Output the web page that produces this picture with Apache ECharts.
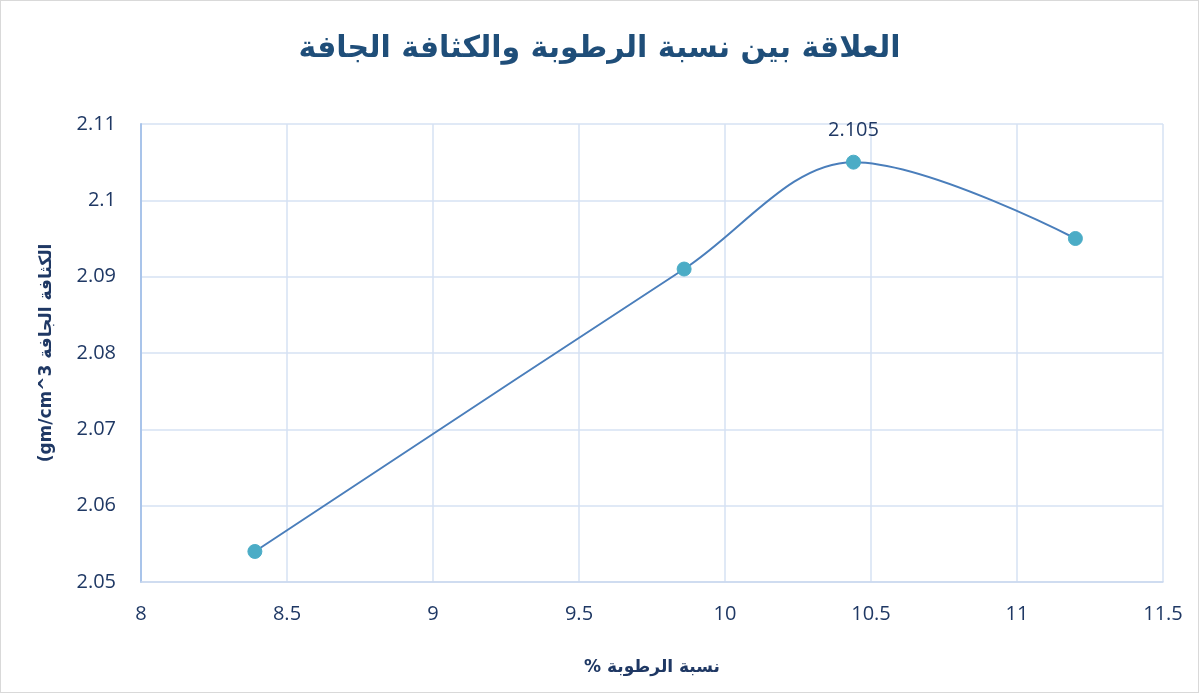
<!DOCTYPE html>
<html><head><meta charset="utf-8">
<script src="https://cdn.jsdelivr.net/npm/echarts@6/dist/echarts.min.js"></script>
<style>html,body{margin:0;padding:0;background:#fff}#c{width:1199px;height:693px;box-sizing:border-box;border:1px solid #d9d9d9}</style>
</head><body><div id="c"></div>
<script>
const titleText = 'العلاقة بين نسبة الرطوبة والكثافة الجافة';
const xName = '% نسبة الرطوبة';
const yName = '(gm/cm^3 الكثافة الجافة';
const moisture = [8.39, 9.86, 10.44, 11.2];
const density = [2.054, 2.091, 2.105, 2.095];
const labelled = [false, false, true, false];

const chart = echarts.init(document.getElementById('c'));
const txt = '#1f3864';
chart.setOption({
  animation: false,
  title: {text: titleText, left: 'center', top: 28,
    textStyle: {fontFamily: 'DejaVu Sans', fontWeight: 'bold', fontSize: 30, color: '#1f4e79'}},
  grid: {left: 140, right: 35, top: 123, bottom: 110},
  xAxis: {type: 'value', min: 8, max: 11.5, interval: 0.5,
    name: xName, nameLocation: 'middle', nameGap: 77,
    nameTextStyle: {fontFamily: 'DejaVu Sans', fontWeight: 'bold', fontSize: 17, color: txt},
    axisLine: {show: true, lineStyle: {color: '#c9d7ee', width: 1.5}},
    axisTick: {show: false},
    axisLabel: {fontFamily: 'Open Sans', fontSize: 20, color: txt, margin: 22},
    splitLine: {show: true, lineStyle: {color: '#d6e2f3', width: 1.5}}},
  yAxis: {type: 'value', min: 2.05, max: 2.11, interval: 0.01,
    name: yName, nameLocation: 'middle', nameGap: 86, nameRotate: 90,
    nameTextStyle: {fontFamily: 'DejaVu Sans', fontWeight: 'bold', fontSize: 17, color: txt},
    axisLine: {show: true, lineStyle: {color: '#a9c4ea', width: 2}},
    axisTick: {show: false},
    axisLabel: {fontFamily: 'Open Sans', fontSize: 20, color: txt, margin: 25,
      formatter: v => String(parseFloat(v.toFixed(3)))},
    splitLine: {show: true, lineStyle: {color: '#d6e2f3', width: 1.5}}},
  series: [{
    type: 'line', smooth: 0.35,
    data: moisture.map((x, i) => ({value: [x, density[i]],
      label: {show: labelled[i], position: 'top', distance: 14, formatter: String(density[i]),
        fontFamily: 'Open Sans', fontSize: 20, color: txt}})),
    symbol: 'circle', symbolSize: 14,
    lineStyle: {color: '#4a7ebb', width: 2},
    itemStyle: {color: '#4bacc6', borderColor: '#4bacc6'}
  }]
});
</script></body></html>
